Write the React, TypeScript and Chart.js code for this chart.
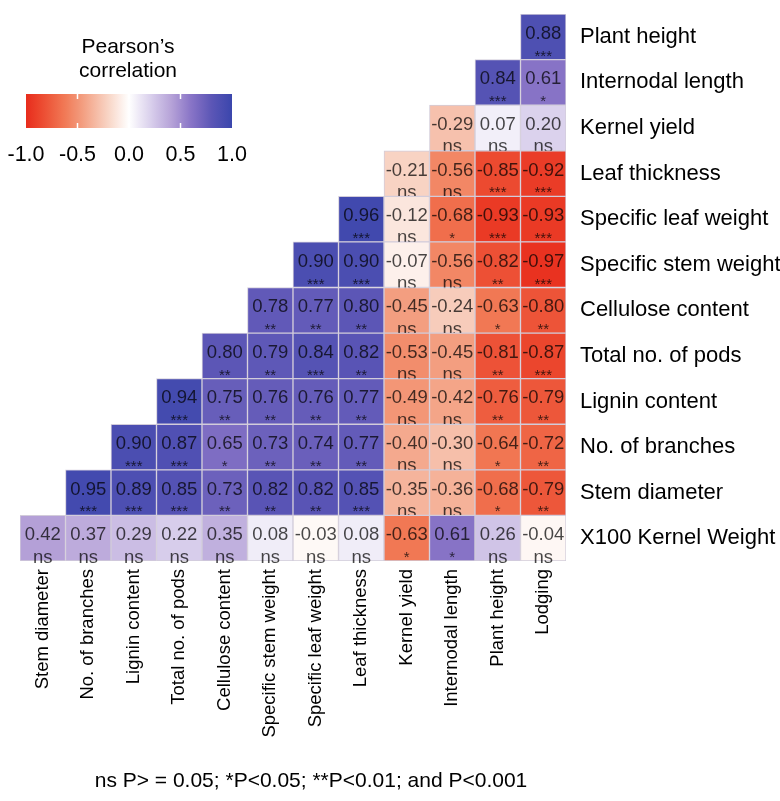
import { useEffect, useRef } from "react";
import { Chart, registerables } from "chart.js";

Chart.register(...registerables);

const columns = [
  "Stem diameter",
  "No. of branches",
  "Lignin content",
  "Total no. of pods",
  "Cellulose content",
  "Specific stem weight",
  "Specific leaf weight",
  "Leaf thickness",
  "Kernel yield",
  "Internodal length",
  "Plant height",
  "Lodging",
];

const rows = [
  "Plant height",
  "Internodal length",
  "Kernel yield",
  "Leaf thickness",
  "Specific leaf weight",
  "Specific stem weight",
  "Cellulose content",
  "Total no. of pods",
  "Lignin content",
  "No. of branches",
  "Stem diameter",
  "X100 Kernel Weight",
];

// each row lists its cells left to right, ending at the "Lodging" column
const corr: number[][] = [
  [0.88],
  [0.84, 0.61],
  [-0.29, 0.07, 0.2],
  [-0.21, -0.56, -0.85, -0.92],
  [0.96, -0.12, -0.68, -0.93, -0.93],
  [0.9, 0.9, -0.07, -0.56, -0.82, -0.97],
  [0.78, 0.77, 0.8, -0.45, -0.24, -0.63, -0.8],
  [0.8, 0.79, 0.84, 0.82, -0.53, -0.45, -0.81, -0.87],
  [0.94, 0.75, 0.76, 0.76, 0.77, -0.49, -0.42, -0.76, -0.79],
  [0.9, 0.87, 0.65, 0.73, 0.74, 0.77, -0.4, -0.3, -0.64, -0.72],
  [0.95, 0.89, 0.85, 0.73, 0.82, 0.82, 0.85, -0.35, -0.36, -0.68, -0.79],
  [0.42, 0.37, 0.29, 0.22, 0.35, 0.08, -0.03, 0.08, -0.63, 0.61, 0.26, -0.04],
];

const sig: string[][] = [
  ["***"],
  ["***", "*"],
  ["ns", "ns", "ns"],
  ["ns", "ns", "***", "***"],
  ["***", "ns", "*", "***", "***"],
  ["***", "***", "ns", "ns", "**", "***"],
  ["**", "**", "**", "ns", "ns", "*", "**"],
  ["**", "**", "***", "**", "ns", "ns", "**", "***"],
  ["***", "**", "**", "**", "**", "ns", "ns", "**", "**"],
  ["***", "***", "*", "**", "**", "**", "ns", "ns", "*", "**"],
  ["***", "***", "***", "**", "**", "**", "***", "ns", "ns", "*", "**"],
  ["ns", "ns", "ns", "ns", "ns", "ns", "ns", "ns", "*", "*", "ns", "ns"],
];

const legendTicks = [-1.0, -0.5, 0.0, 0.5, 1.0];
const legendTitle = ["Pearson\u2019s", "correlation"];
const footnote = "ns P> = 0.05; *P<0.05; **P<0.01; and P<0.001";

const FONT = '"Liberation Sans", Arial, sans-serif';
const N = columns.length;

const posStops = [
  [0, 255, 255, 255],
  [0.22, 215, 205, 235],
  [0.42, 180, 160, 215],
  [0.61, 135, 115, 198],
  [0.8, 92, 86, 182],
  [1, 58, 70, 172],
];
const negStops = [
  [0, 255, 255, 255],
  [0.2, 248, 213, 198],
  [0.45, 243, 158, 128],
  [0.63, 241, 120, 84],
  [0.85, 236, 74, 48],
  [1, 232, 44, 28],
];

function colorFor(v: number): string {
  const stops = v >= 0 ? posStops : negStops;
  const a = Math.min(1, Math.abs(v));
  for (let i = 1; i < stops.length; i++) {
    if (a <= stops[i][0]) {
      const s0 = stops[i - 1];
      const s1 = stops[i];
      const t = (a - s0[0]) / (s1[0] - s0[0]);
      const c = [1, 2, 3].map((k) => Math.round(s0[k] + (s1[k] - s0[k]) * t));
      return `rgb(${c[0]},${c[1]},${c[2]})`;
    }
  }
  const l = stops[stops.length - 1];
  return `rgb(${l[1]},${l[2]},${l[3]})`;
}

const datasets = rows.map((_, r) => {
  const start = N - 1 - r;
  return {
    label: rows[r],
    data: columns.map((_, c) => (c >= start ? [N - 1 - r, N - r] : null)),
    backgroundColor: columns.map((_, c) =>
      c >= start ? colorFor(corr[r][c - start]) : "rgba(0,0,0,0)"
    ),
    borderColor: "#d2ccda",
    borderWidth: 1,
    borderSkipped: false,
    grouped: false,
    barPercentage: 1,
    categoryPercentage: 1,
    order: -r,
    yAxisID: "y",
  };
});

const cellTextPlugin = {
  id: "cellText",
  afterDatasetDraw(chart: any, args: any) {
    const r = args.index;
    const start = N - 1 - r;
    const ctx = chart.ctx;
    const yS = chart.scales.y;
    const xS = chart.scales.x;
    const top = yS.getPixelForValue(N - r);
    const bottom = yS.getPixelForValue(N - 1 - r);
    const mid = (top + bottom) / 2;
    ctx.save();
    ctx.textAlign = "center";
    ctx.textBaseline = "alphabetic";
    ctx.fillStyle = "rgba(0,0,0,0.72)";
    for (let c = start; c < N; c++) {
      const k = c - start;
      const x = xS.getPixelForValue(c);
      ctx.font = `18.5px ${FONT}`;
      ctx.fillText(corr[r][k].toFixed(2), x, mid + 2);
      const s = sig[r][k];
      if (s === "ns") {
        ctx.font = `18.5px ${FONT}`;
        ctx.fillText("ns", x, bottom + 1.5);
      } else {
        ctx.font = `15px ${FONT}`;
        ctx.fillText(s, x, bottom + 1);
      }
    }
    ctx.restore();
  },
};

const legendPlugin = {
  id: "corrLegend",
  afterDraw(chart: any) {
    const ctx = chart.ctx;
    ctx.save();
    ctx.fillStyle = "#000";
    ctx.textAlign = "center";
    ctx.textBaseline = "middle";
    ctx.font = `21px ${FONT}`;
    ctx.fillText(legendTitle[0], 128, 47);
    ctx.fillText(legendTitle[1], 128, 71);

    const x0 = 26;
    const x1 = 232;
    const y0 = 94;
    const y1 = 128;
    const grad = ctx.createLinearGradient(x0, 0, x1, 0);
    for (let i = 0; i <= 40; i++) {
      const v = -1 + (2 * i) / 40;
      grad.addColorStop(i / 40, colorFor(v));
    }
    ctx.fillStyle = grad;
    ctx.fillRect(x0, y0, x1 - x0, y1 - y0);

    const px = (v: number) => x0 + ((v + 1) / 2) * (x1 - x0);
    ctx.strokeStyle = "#fff";
    ctx.lineWidth = 1.5;
    legendTicks.forEach((v) => {
      if (v <= -1 || v >= 1) return;
      const x = px(v);
      ctx.beginPath();
      ctx.moveTo(x, y0);
      ctx.lineTo(x, y0 + 5);
      ctx.moveTo(x, y1 - 5);
      ctx.lineTo(x, y1);
      ctx.stroke();
    });
    ctx.fillStyle = "#000";
    ctx.font = `21.5px ${FONT}`;
    legendTicks.forEach((v) => {
      ctx.fillText(v.toFixed(1), px(v), 155);
    });

    ctx.font = `21px ${FONT}`;
    ctx.fillText(footnote, 311, 781);
    ctx.restore();
  },
};

export default function App() {
  const ref = useRef<HTMLCanvasElement>(null);
  useEffect(() => {
    if (!ref.current) return;
    const chart = new Chart(ref.current, {
      type: "bar",
      data: { labels: columns, datasets: datasets as any },
      options: {
        animation: false,
        responsive: false,
        devicePixelRatio: 1,
        layout: { padding: { left: 20, top: 14, right: 0, bottom: 0 } },
        plugins: {
          legend: { display: false },
          tooltip: { enabled: false },
          title: { display: false },
        },
        scales: {
          x: {
            type: "category",
            offset: true,
            grid: { display: false, drawTicks: false },
            border: { display: false },
            ticks: {
              autoSkip: false,
              minRotation: 90,
              maxRotation: 90,
              padding: 8,
              color: "#000",
              font: { family: FONT, size: 18.5 },
            },
            afterFit(s: any) {
              s.height = 240;
              s.paddingLeft = 0;
              s.paddingRight = 0;
            },
          },
          y: {
            type: "linear",
            min: 0,
            max: N,
            display: false,
          },
          yr: {
            type: "category",
            position: "right",
            labels: rows,
            offset: true,
            grid: { display: false, drawTicks: false },
            border: { display: false },
            ticks: {
              autoSkip: false,
              padding: 14,
              color: "#000",
              font: { family: FONT, size: 22 },
            },
            afterFit(s: any) {
              s.width = 214;
              s.paddingTop = 0;
              s.paddingBottom = 0;
            },
          },
        },
      } as any,
      plugins: [cellTextPlugin, legendPlugin],
    });
    return () => chart.destroy();
  }, []);
  return (
    <div style={{ position: "absolute", left: 0, top: 0, width: 780, height: 801, background: "#fff" }}>
      <canvas ref={ref} width={780} height={801} style={{ width: 780, height: 801, display: "block" }} />
    </div>
  );
}
